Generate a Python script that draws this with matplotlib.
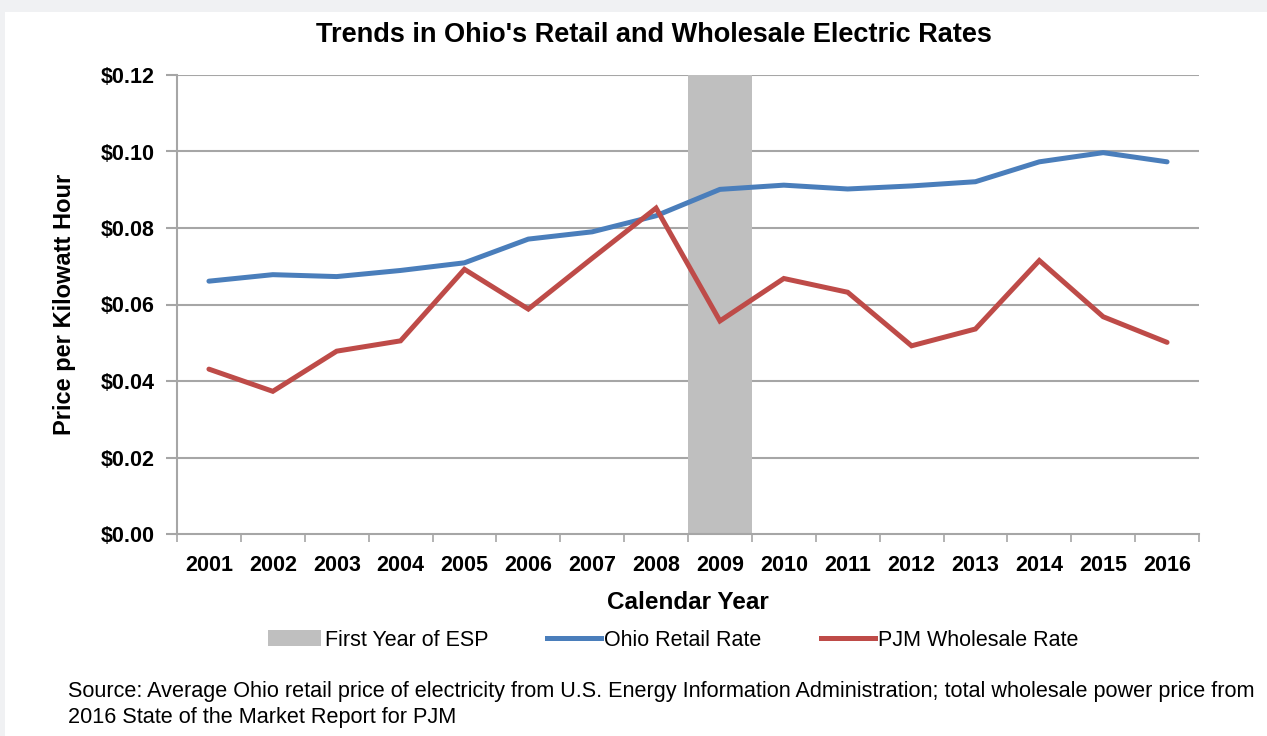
import matplotlib
matplotlib.use("Agg")
import matplotlib.pyplot as plt
from matplotlib.patches import Rectangle, Patch
from matplotlib.lines import Line2D
import numpy as np

plt.rcParams['font.family'] = ['Liberation Sans', 'DejaVu Sans']

years = ["2001", "2002", "2003", "2004", "2005", "2006", "2007", "2008",
         "2009", "2010", "2011", "2012", "2013", "2014", "2015", "2016"]
ohio_retail = [0.0661, 0.0678, 0.0673, 0.0689, 0.0709, 0.0771, 0.0790, 0.0832,
               0.0901, 0.0912, 0.0902, 0.0910, 0.0921, 0.0973, 0.0997, 0.0973]
pjm_wholesale = [0.0431, 0.0373, 0.0478, 0.0505, 0.0692, 0.0588, 0.0721, 0.0852,
                 0.0557, 0.0668, 0.0632, 0.0492, 0.0536, 0.0715, 0.0568, 0.0501]
esp_year = "2009"
y_ticks = [0.0, 0.02, 0.04, 0.06, 0.08, 0.10, 0.12]

W, H = 1267, 736
fig = plt.figure(figsize=(W / 100, H / 100), dpi=100)
fig.patch.set_facecolor("#f0f1f3")
fig.add_artist(Rectangle((5 / W, 0), 1, 1 - 12 / H, transform=fig.transFigure,
                         facecolor="white", edgecolor="none", zorder=0))

ax = fig.add_axes([177 / W, (H - 534) / H, 1022 / W, 459 / H])
ax.set_facecolor("white")
x = np.arange(len(years))
ax.set_xlim(-0.5, len(years) - 0.5)
ax.set_ylim(0, 0.12)

grid_c = "#a6a6a6"
ax.set_yticks(y_ticks)
ax.set_yticklabels([f"${v:.2f}" for v in y_ticks], fontsize=15.5, fontweight="bold")
for v in y_ticks[1:]:
    ax.axhline(v, color=grid_c, lw=1.5, zorder=1)

i_esp = years.index(esp_year)
ax.axvspan(i_esp - 0.5, i_esp + 0.5, color="#bfbfbf", zorder=2, lw=0)

LW = 3.6
ax.plot(x, ohio_retail, color="#4a7ebb", lw=LW, zorder=3, solid_joinstyle="round",
        solid_capstyle="round")
ax.plot(x, pjm_wholesale, color="#be4b48", lw=LW, zorder=3, solid_joinstyle="miter",
        solid_capstyle="round")

ax.set_xticks(x)
ax.set_xticklabels(years, fontsize=15.5, fontweight="bold")
ax.tick_params(axis="x", length=0, pad=15)
ax.set_xticks(np.arange(-0.5, len(years), 1.0), minor=True)
ax.tick_params(axis="x", which="minor", length=6, color=grid_c, width=1.2, direction="out")
ax.tick_params(axis="y", length=8, color=grid_c, width=1.5, pad=8)

for s in ["top", "right"]:
    ax.spines[s].set_visible(False)
for s in ["left", "bottom"]:
    ax.spines[s].set_color(grid_c)
    ax.spines[s].set_linewidth(1.5)

ax.set_xlabel("Calendar Year", fontsize=17.5, fontweight="bold", labelpad=11)
ax.set_ylabel("Price per Kilowatt Hour", fontsize=17, fontweight="bold", labelpad=18)

fig.text(654 / W, 1 - 35 / H, "Trends in Ohio's Retail and Wholesale Electric Rates",
         ha="center", va="center", fontsize=19.5, fontweight="bold")

handles = [Patch(facecolor="#bfbfbf", edgecolor="none"),
           Line2D([0], [0], color="#4a7ebb", lw=LW),
           Line2D([0], [0], color="#be4b48", lw=LW)]
fig.legend(handles, ["First Year of ESP", "Ohio Retail Rate", "PJM Wholesale Rate"],
           loc="center", bbox_to_anchor=(673 / W, 1 - 640 / H), ncol=3, frameon=False,
           fontsize=15.5, handlelength=2.5, handletextpad=0.15, columnspacing=2.75)

fig.text(68 / W, 1 - 692 / H,
         "Source: Average Ohio retail price of electricity from U.S. Energy Information Administration; total wholesale power price from",
         ha="left", va="center", fontsize=15.6)
fig.text(68 / W, 1 - 717 / H, "2016 State of the Market Report for PJM",
         ha="left", va="center", fontsize=15.6)

fig.savefig("out.png", dpi=100, facecolor=fig.get_facecolor())
